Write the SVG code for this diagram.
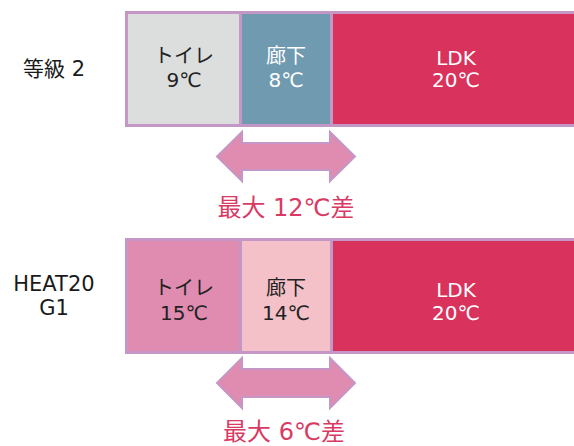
<svg xmlns="http://www.w3.org/2000/svg" width="574" height="446" viewBox="0 0 574 446">
<style>
text{font-family:"DejaVu Sans","Noto Sans CJK JP",sans-serif;text-anchor:middle}
.lbl{font-size:21px;fill:#1a1a1a}
.room{font-size:20px}
.dark{fill:#222}
.light{fill:#fff}
.diff{font-size:24px;fill:#d93a64}
.cell{stroke:#c497c6;stroke-width:3}
.arrow{fill:#e08bb0;stroke:#c497c6;stroke-width:2;stroke-linejoin:miter}
</style>
<rect width="574" height="446" fill="#fff"/>
<g id="label-top"><text class="lbl" x="54" y="76">等級 2</text></g>
<g id="label-bottom"><text class="lbl" x="54" y="291">HEAT20</text><text class="lbl" x="54" y="315">G1</text></g>
<g id="top-toilet"><rect class="cell" x="126.5" y="12.5" width="114" height="113" fill="#dcdddd"/><text class="room dark" x="184" y="63">トイレ</text><text class="room dark" x="184" y="87">9℃</text></g>
<g id="top-hall"><rect class="cell" x="240.5" y="12.5" width="91" height="113" fill="#6f9ab0"/><text class="room light" x="286" y="63">廊下</text><text class="room light" x="286" y="87">8℃</text></g>
<g id="top-ldk"><rect class="cell" x="331.5" y="12.5" width="250" height="113" fill="#d9325c"/><text class="room light" x="456" y="65">LDK</text><text class="room light" x="456" y="87">20℃</text></g>
<g id="bot-toilet"><rect class="cell" x="126.5" y="239.5" width="114" height="113" fill="#e08bb0"/><text class="room dark" x="184" y="295">トイレ</text><text class="room dark" x="184" y="320">15℃</text></g>
<g id="bot-hall"><rect class="cell" x="240.5" y="239.5" width="91" height="113" fill="#f5c1c8"/><text class="room dark" x="286" y="295">廊下</text><text class="room dark" x="286" y="320">14℃</text></g>
<g id="bot-ldk"><rect class="cell" x="331.5" y="239.5" width="250" height="113" fill="#d9325c"/><text class="room light" x="456" y="297">LDK</text><text class="room light" x="456" y="320">20℃</text></g>
<g id="connectors">
<polygon class="arrow" points="217,156.5 242,132 242,143 330,143 330,132 355,156.5 330,181 330,170 242,170 242,181"/>
<polygon class="arrow" points="217,383 242,358 242,369 330,369 330,358 355,383 330,408 330,397 242,397 242,408"/>
</g>
<g id="diff-top"><text class="diff" x="286" y="216">最大 12℃差</text></g>
<g id="diff-bottom"><text class="diff" x="284" y="440">最大 6℃差</text></g>
</svg>
